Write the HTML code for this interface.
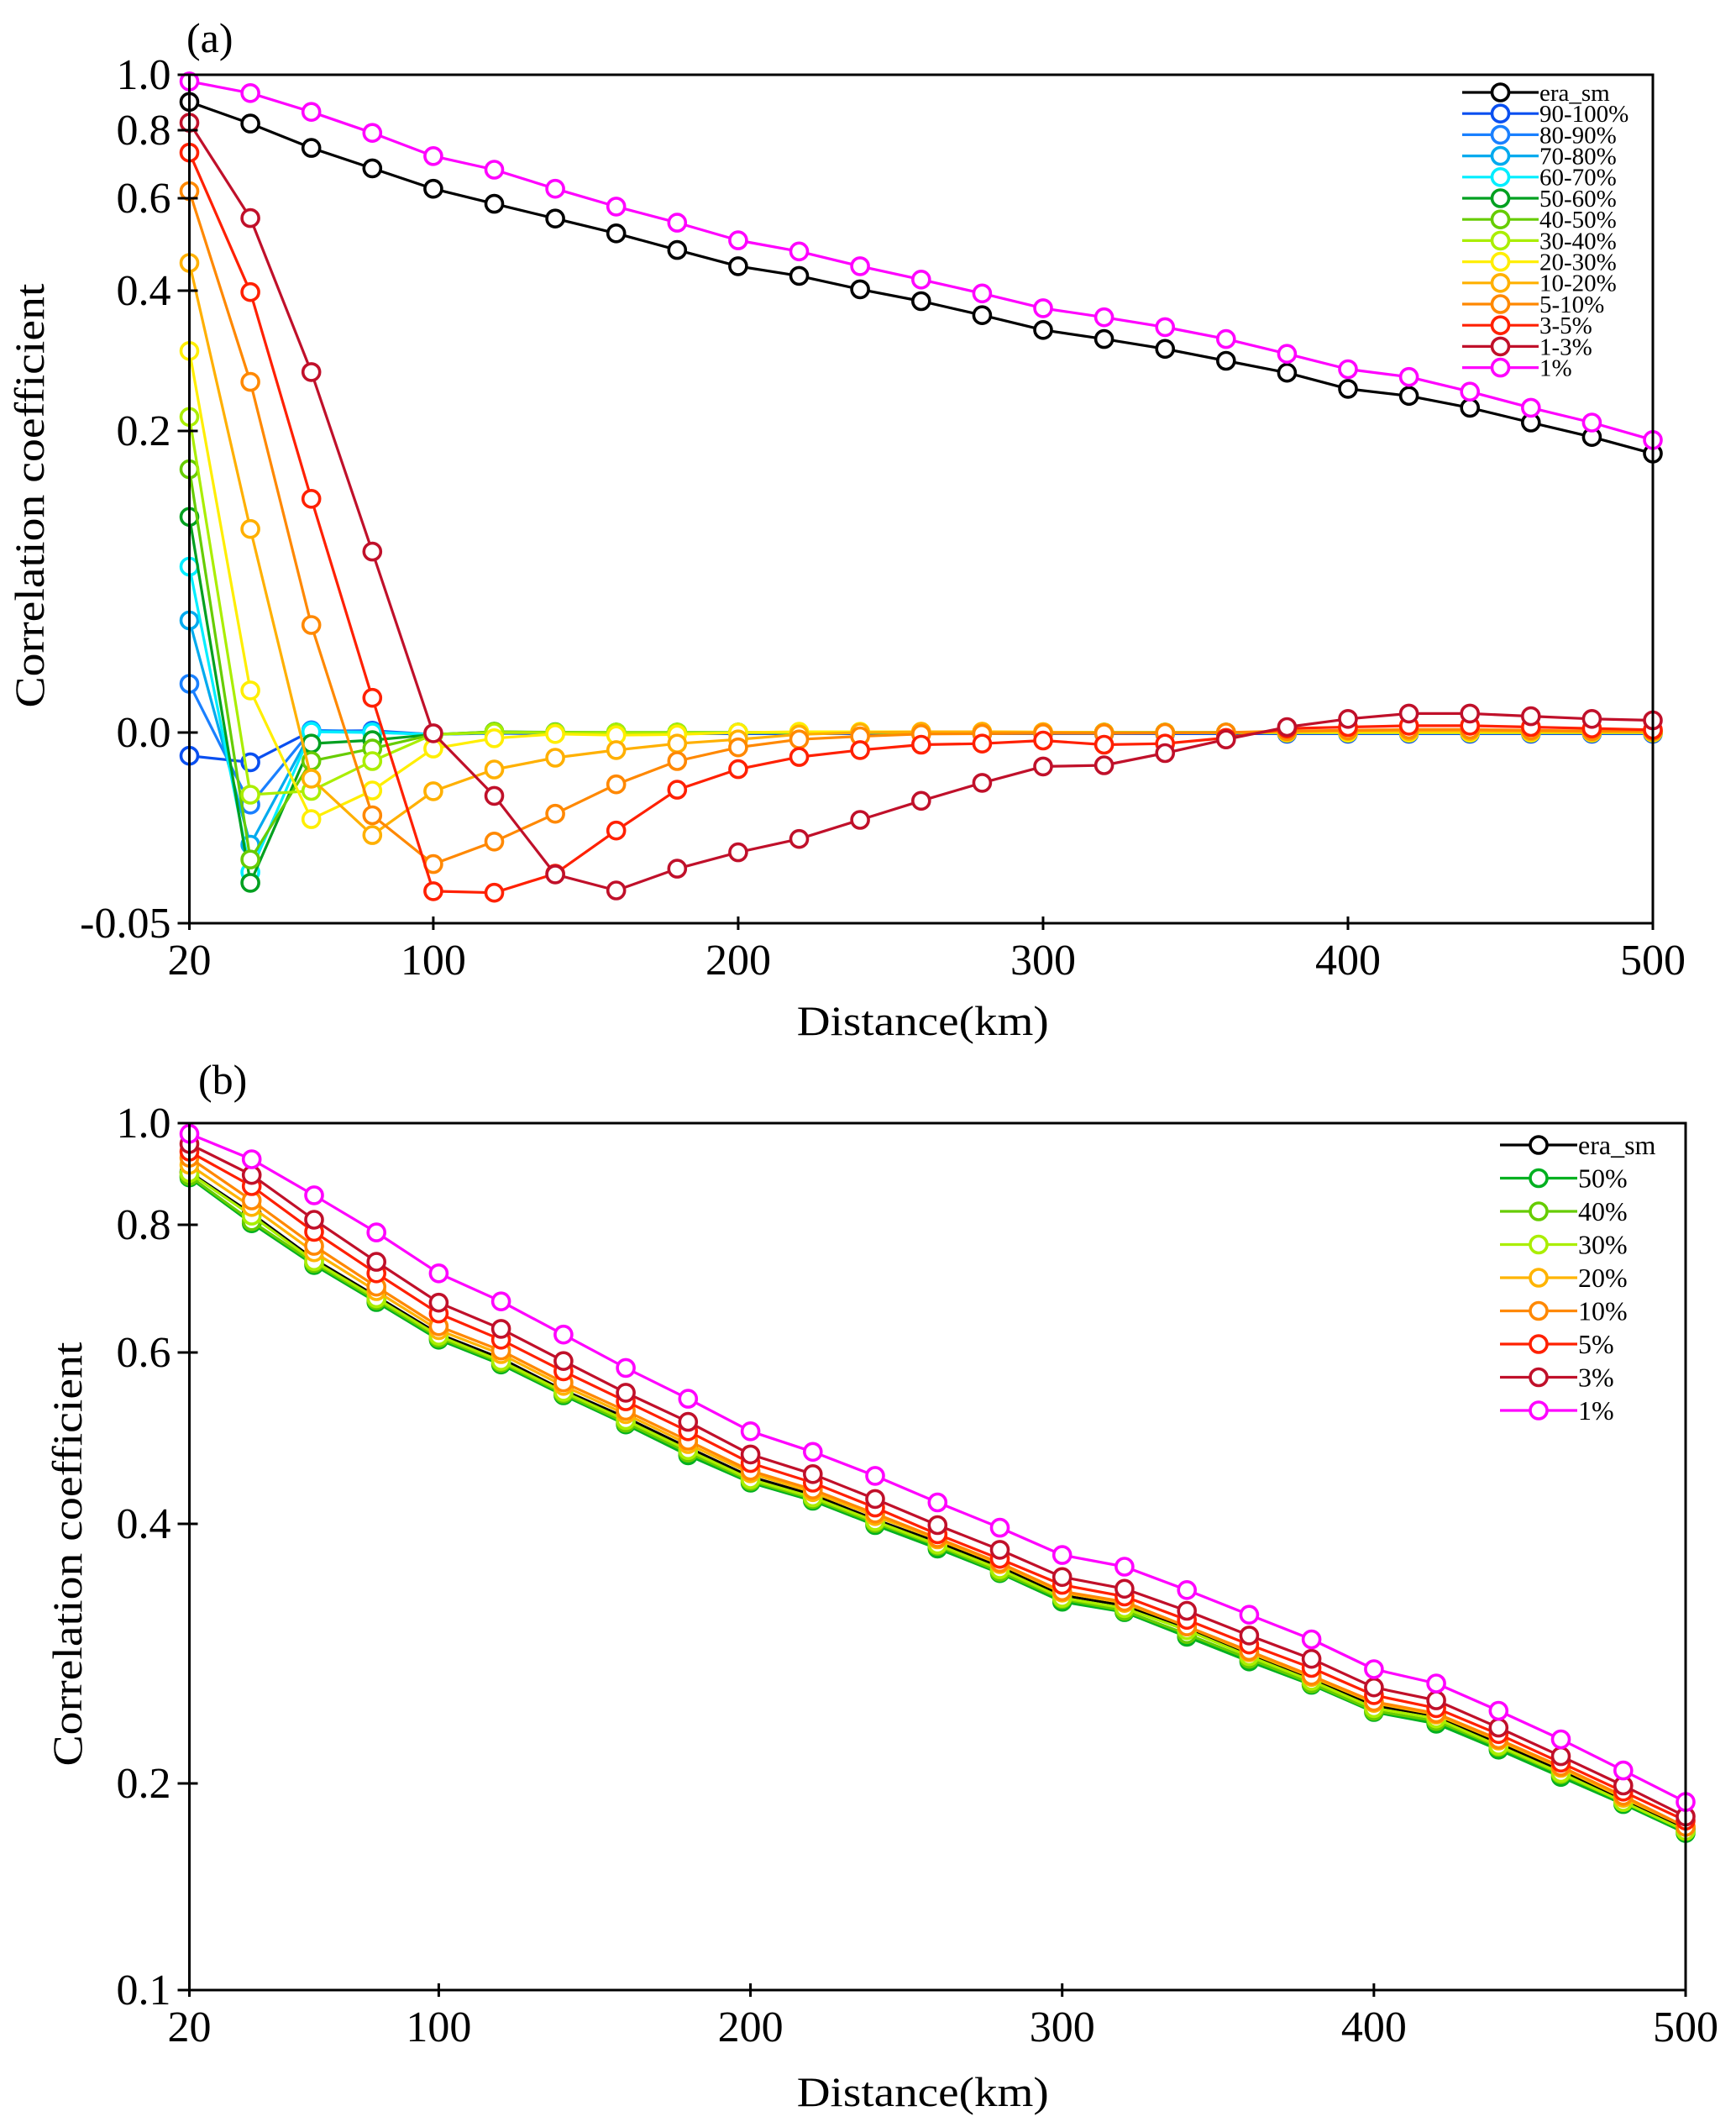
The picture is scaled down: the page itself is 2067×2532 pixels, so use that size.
<!DOCTYPE html>
<html><head><meta charset="utf-8"><style>
html,body{margin:0;padding:0;background:#fff;}
svg{display:block;font-family:"Liberation Serif","DejaVu Serif",serif;}
</style></head><body>
<svg id="chart" width="2067" height="2532" viewBox="0 0 2067 2532" xmlns="http://www.w3.org/2000/svg">
<g id="pa"></g>
<g id="pb"></g>
</svg>
<script>
// ---------- shared data ----------
const distances = [20,40,60,80,100,120,140,160,180,200,220,240,260,280,300,320,340,360,380,400,420,440,460,480,500];
const xTicks = [20,100,200,300,400,500];

// ---------- panel (a) data ----------
const aNames = ["era_sm","90-100%","80-90%","70-80%","60-70%","50-60%","40-50%","30-40%","20-30%","10-20%","5-10%","3-5%","1-3%","1%"];
const aColors = ["#000000","#0a4ff0","#1a80ff","#00aaee","#00eeff","#00a020","#66cc00","#aaee00","#ffee00","#ffb000","#ff8800","#ff2000","#c0102a","#ff00ff"];
const aEra = [0.902,0.824,0.748,0.688,0.628,0.588,0.556,0.524,0.488,0.453,0.432,0.403,0.385,0.365,0.344,0.331,0.317,0.300,0.283,0.260,0.250,0.233,0.212,0.196,0.185];
const a90 = [-0.0061,-0.0078,0.001,0.0012,-0.0005,-0.0002,-0.0003,-0.0003,-0.0003,-0.0003,-0.0003,-0.0003,-0.0003,-0.0003,-0.0003,-0.0003,-0.0003,-0.0003,-0.0003,-0.0003,-0.0003,-0.0003,-0.0003,-0.0003,-0.0003];
const a80 = [0.0323,-0.0189,0.0015,0.0006,-0.0005,0,0,0,0,0,0,0,0,0,0,0,0,0,0,0,0,0,0,0,0];
const a70 = [0.0744,-0.0294,0.0008,0.0003,-0.0005,0,0,0,0,0,0,0,0,0,0,0,0,0,0,0,0,0,0,0,0];
const a60 = [0.110,-0.0366,0.0005,0.0,-0.0005,0,0,0,0,0,0,0,0,0,0,0,0,0,0,0,0,0,0,0,0];
const a50 = [0.143,-0.0394,-0.0029,-0.002,-0.0005,0.0005,0.0002,0,0,0,0,0,0,0,0,0,0,0,0,0,0,0,0,0,0];
const a40 = [0.1746,-0.0333,-0.0075,-0.0042,-0.0005,0.0005,0,0,0,0,0,0,0,0,0,0,0,0,0,0,0,0,0,0,0];
const a30 = [0.22,-0.0163,-0.0153,-0.0075,-0.0005,0.0,0,0,0,0,0,0,0,0,0,0,0,0,0,0,0,0,0,0,0];
const a20 = [0.314,0.0279,-0.0227,-0.0152,-0.0042,-0.0015,-0.0004,-0.0007,-0.0005,0.0,0.0005,0.0005,0.0005,0.0005,0.0003,0,0,0,0,0,0,0,0,0,0];
const a10 = [0.46,0.135,-0.0121,-0.0269,-0.0154,-0.0097,-0.0066,-0.0046,-0.0029,-0.0018,-0.0005,0.0,0.0005,0.0005,0.0003,0,0,0,0.0005,0.001,0.001,0.001,0.0008,0.0005,0.0005];
const a5 = [0.621,0.27,0.0713,-0.0217,-0.0345,-0.0286,-0.0213,-0.0136,-0.0075,-0.0039,-0.0018,-0.001,-0.0004,-0.0003,-0.0002,-0.0002,-0.0001,0.0,0.001,0.0015,0.002,0.002,0.0015,0.001,0.001];
const a3 = [0.734,0.398,0.155,0.023,-0.0416,-0.042,-0.037,-0.0257,-0.015,-0.0096,-0.0064,-0.0046,-0.0032,-0.0029,-0.0021,-0.0032,-0.0029,-0.0014,0.0027,0.0036,0.0045,0.0045,0.0036,0.0027,0.0018];
const a1 = [0.827,0.557,0.284,0.120,-0.0002,-0.0166,-0.0372,-0.0414,-0.0357,-0.0314,-0.0279,-0.0229,-0.0179,-0.0132,-0.0089,-0.0086,-0.0054,-0.0018,0.0036,0.009,0.0126,0.0126,0.0108,0.009,0.0081];
const aTop = [0.976,0.934,0.866,0.792,0.724,0.684,0.628,0.582,0.547,0.509,0.485,0.453,0.424,0.396,0.375,0.362,0.348,0.331,0.310,0.288,0.277,0.256,0.233,0.212,0.194];
const aSeries = [aEra,a90,a80,a70,a60,a50,a40,a30,a20,a10,a5,a3,a1,aTop];
const aYTicks = [1.0,0.8,0.6,0.4,0.2,0.0,-0.05];
const aYTickLabels = ["1.0","0.8","0.6","0.4","0.2","0.0","-0.05"];

// ---------- panel (b) data ----------
const bNames = ["era_sm","50%","40%","30%","20%","10%","5%","3%","1%"];
const bColors = ["#000000","#00b020","#66cc00","#aaee00","#ffb400","#ff8800","#ff2000","#c0102a","#ff00ff"];
const bEra = [0.904,0.822,0.746,0.688,0.629,0.593,0.556,0.524,0.489,0.455,0.434,0.405,0.386,0.367,0.345,0.337,0.320,0.300,0.281,0.260,0.252,0.231,0.210,0.192,0.178];
const b50 = [0.893,0.803,0.737,0.679,0.620,0.586,0.550,0.516,0.480,0.448,0.427,0.399,0.381,0.362,0.340,0.332,0.313,0.294,0.276,0.255,0.246,0.226,0.205,0.190,0.176];
const b40 = [0.896,0.807,0.740,0.682,0.623,0.588,0.552,0.518,0.483,0.450,0.429,0.401,0.383,0.363,0.342,0.333,0.315,0.296,0.277,0.256,0.248,0.228,0.207,0.191,0.177];
const b30 = [0.902,0.818,0.743,0.685,0.626,0.590,0.554,0.521,0.486,0.452,0.431,0.403,0.384,0.365,0.343,0.335,0.318,0.298,0.279,0.258,0.250,0.229,0.208,0.191,0.177];
const b20 = [0.918,0.835,0.757,0.696,0.635,0.598,0.561,0.528,0.493,0.459,0.437,0.409,0.388,0.369,0.347,0.339,0.321,0.301,0.282,0.262,0.253,0.233,0.212,0.193,0.179];
const b10 = [0.932,0.848,0.767,0.703,0.641,0.603,0.565,0.532,0.497,0.462,0.440,0.412,0.389,0.370,0.348,0.340,0.321,0.302,0.283,0.263,0.254,0.234,0.213,0.194,0.179];
const b5 = [0.944,0.876,0.789,0.724,0.661,0.620,0.578,0.543,0.508,0.471,0.448,0.419,0.392,0.373,0.353,0.344,0.326,0.307,0.289,0.268,0.258,0.238,0.216,0.196,0.182];
const b3 = [0.959,0.898,0.810,0.742,0.678,0.637,0.590,0.553,0.519,0.481,0.458,0.429,0.399,0.380,0.359,0.350,0.333,0.314,0.296,0.274,0.264,0.243,0.221,0.199,0.184];
const b1 = [0.979,0.929,0.858,0.788,0.724,0.680,0.628,0.582,0.546,0.508,0.484,0.456,0.425,0.397,0.376,0.367,0.349,0.330,0.311,0.288,0.277,0.256,0.234,0.210,0.191];
const bSeries = [bEra,b50,b40,b30,b20,b10,b5,b3,b1];
const bYTicks = [1.0,0.8,0.6,0.4,0.2,0.1];
const bYTickLabels = ["1.0","0.8","0.6","0.4","0.2","0.1"];

const NS = "http://www.w3.org/2000/svg";
function mk(parent, tag, attrs, text){
  const e = document.createElementNS(NS, tag);
  for (const k in attrs) e.setAttribute(k, attrs[k]);
  if (text !== undefined) e.textContent = text;
  parent.appendChild(e);
  return e;
}
function makeY(vals, pix){
  return function(v){
    for (let i=0;i<vals.length-1;i++){
      const a=vals[i], b=vals[i+1];
      if ((v<=a && v>=b) || i===vals.length-2){
        return pix[i] + (v-a)/(b-a)*(pix[i+1]-pix[i]);
      }
    }
    return pix[0];
  };
}

function drawPanel(g, cfg){
  const {left,right,top,bottom,yTicks,yPix,yLabels,names,colors,series,legend,tag,tagX,tagY,titleY,ytitleX,ytitleCY} = cfg;
  const xs = v => left + (v-20)/(500-20)*(right-left);
  const ys = makeY(yTicks, yPix);

  const tagEl = mk(g,'text',{x:tagX,y:tagY,'font-size':50,fill:'#000'},tag);
  
  

  const sg = mk(g,'g',{});
  
  
  series.forEach((arr,si)=>{
    const s = mk(sg,'g',{});
    
    
    const pts = arr.map((v,i)=>xs(distances[i]).toFixed(1)+','+ys(v).toFixed(1)).join(' ');
    const pl = mk(s,'polyline',{points:pts,fill:'none',stroke:colors[si],'stroke-width':3.2,'stroke-linejoin':'round'});
    
    
    arr.forEach((v,i)=>{
      const c = mk(s,'circle',{cx:xs(distances[i]).toFixed(1),cy:ys(v).toFixed(1),r:10,fill:'#fff',stroke:colors[si],'stroke-width':3.6});
      
      
    });
  });

  const fr = mk(g,'rect',{x:left,y:top,width:right-left,height:bottom-top,fill:'none',stroke:'#000','stroke-width':3});
  
  

  yTicks.forEach((v,i)=>{
    const y = ys(v);
    const t = mk(g,'line',{x1:left-14,x2:left+10,y1:y,y2:y,stroke:'#000','stroke-width':3});
    
    
    const l = mk(g,'text',{x:left-22,y:y+17,'font-size':52,'text-anchor':'end',fill:'#000'},yLabels[i]);
    
    
  });
  xTicks.forEach(v=>{
    const x = xs(v);
    const t = mk(g,'line',{x1:x,x2:x,y1:bottom-8,y2:bottom+8,stroke:'#000','stroke-width':3});
    
    
    const l = mk(g,'text',{x:x,y:bottom+61,'font-size':52,'text-anchor':'middle',fill:'#000'},String(v));
    
    
  });
  const xt = mk(g,'text',{x:(left+1968)/2+2,y:titleY,'font-size':50,'text-anchor':'middle',fill:'#000',textLength:300,lengthAdjust:'spacingAndGlyphs'},'Distance(km)');
  
  
  const yt = mk(g,'text',{x:0,y:0,'font-size':50,'text-anchor':'middle',fill:'#000',textLength:505,lengthAdjust:'spacingAndGlyphs',transform:`translate(${ytitleX},${ytitleCY}) rotate(-90)`},'Correlation coefficient');
  
  

  const lg = mk(g,'g',{});
  
  
  names.forEach((n,i)=>{
    const y = legend.y0 + i*legend.dy;
    const e = mk(lg,'g',{});
    
    
    mk(e,'line',{x1:legend.x1,x2:legend.x2,y1:y,y2:y,stroke:colors[i],'stroke-width':3.2});
    mk(e,'circle',{cx:(legend.x1+legend.x2)/2,cy:y,r:10,fill:'#fff',stroke:colors[i],'stroke-width':3.6});
    mk(e,'text',{x:legend.x2+1,y:y+legend.fs*0.34,'font-size':legend.fs,fill:'#000'},n);
  });
}

drawPanel(document.getElementById('pa'),{
  left:225.5,right:1968,top:89,bottom:1099,
  yTicks:aYTicks,yPix:[89,155,236,346,513,872,1099],yLabels:aYTickLabels,
  names:aNames,colors:aColors,series:aSeries,
  legend:{x1:1741,x2:1832,y0:110,dy:25.2,fs:29},
  tag:'(a)',tagX:222,tagY:62,titleY:1232,ytitleX:52,ytitleCY:590
});
drawPanel(document.getElementById('pb'),{
  left:225.5,right:2007,top:1337,bottom:2369,
  yTicks:bYTicks,yPix:[1337,1458,1610,1814,2123,2369],yLabels:bYTickLabels,
  names:bNames,colors:bColors,series:bSeries,
  legend:{x1:1786,x2:1878,y0:1363,dy:39.5,fs:32},
  tag:'(b)',tagX:236,tagY:1302,titleY:2507,ytitleX:97,ytitleCY:1850
});
</script>
</body></html>
